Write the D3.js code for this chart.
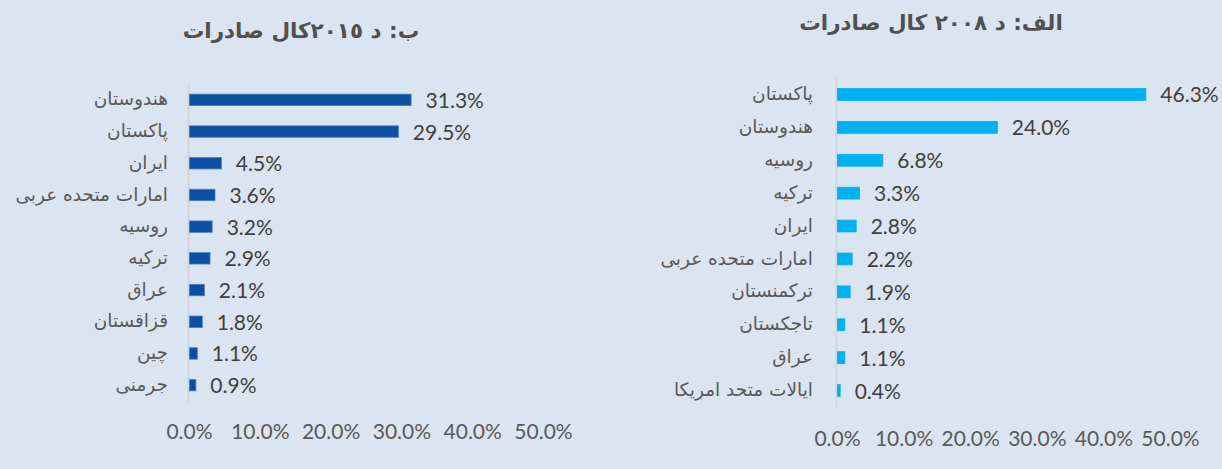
<!DOCTYPE html>
<html>
<head>
<meta charset="utf-8">
<script src="https://cdn.jsdelivr.net/npm/d3@7"></script>
<style>
  html, body { margin: 0; padding: 0; background: #dbe5f1; }
  svg { display: block; }
  .num { font-family: Lato, "Open Sans", sans-serif; }
  .ar { font-family: "DejaVu Sans", sans-serif; }
</style>
</head>
<body>
<div id="chart"></div>
<script>
// left panel (2015)
const title2015 = "ب: د  ٢٠١٥کال صادرات";
const countries2015 = ["هندوستان", "پاکستان", "ایران", "امارات متحده عربی", "روسیه", "ترکیه", "عراق", "قزاقستان", "چین", "جرمنی"];
const shares2015 = [31.3, 29.5, 4.5, 3.6, 3.2, 2.9, 2.1, 1.8, 1.1, 0.9];

// right panel (2008)
const title2008 = "الف: د ٢٠٠٨ کال صادرات";
const countries2008 = ["پاکستان", "هندوستان", "روسیه", "ترکیه", "ایران", "امارات متحده عربی", "ترکمنستان", "تاجکستان", "عراق", "ایالات متحد امریکا"];
const shares2008 = [46.3, 24.0, 6.8, 3.3, 2.8, 2.2, 1.9, 1.1, 1.1, 0.4];

const xTicks = [0, 10, 20, 30, 40, 50];

const W = 1222, H = 469;
const svg = d3.select("#chart").append("svg").attr("width", W).attr("height", H);

const fmt = d => d.toFixed(1) + "%";

function panel(cfg) {
    var g = svg.append("g");

    var x = d3.scaleLinear().domain([0, 50]).range(cfg.xr);
    var y = d3.scaleBand().domain(cfg.cats).range(cfg.yr).paddingInner(0.64).paddingOuter(0.32);

    // title
    g.append("text")
        .attr("class", "ar")
        .attr("x", cfg.tx).attr("y", cfg.ty)
        .attr("text-anchor", "middle")
        .attr("direction", "rtl")
        .style("unicode-bidi", "embed")
        .style("font-size", "21.5px")
        .style("font-weight", "bold")
        .style("fill", "#505050")
        .text(cfg.title);

    // category axis
    var ya = g.append("g")
        .attr("transform", `translate(${x(0) - 1},0)`)
        .call(d3.axisLeft(y).tickSize(0).tickSizeOuter(0).tickPadding(cfg.pad));
    ya.select(".domain").attr("stroke", "#d0d5dc").attr("stroke-width", 2);
    ya.selectAll("text")
        .attr("class", "ar")
        .attr("dy", "0.3em")
        .style("font-size", "18.5px")
        .style("fill", "#595959");

    // bars
    g.selectAll(".bar").data(cfg.vals).enter()
        .append("rect")
        .attr("x", x(0) + 0.5)
        .attr("y", (d, i) => y(cfg.cats[i]))
        .attr("width", d => x(d) - x(0))
        .attr("height", y.bandwidth())
        .attr("fill", cfg.color)
        .attr("stroke", cfg.edge)
        .attr("stroke-width", 0.8);

    // value labels
    g.selectAll(".val").data(cfg.vals).enter()
        .append("text")
        .attr("class", "num")
        .attr("x", d => x(d) + 15)
        .attr("y", (d, i) => y(cfg.cats[i]) + y.bandwidth() / 2 + 8)
        .style("font-size", "21px")
        .style("fill", "#404040")
        .text(fmt);

    // x axis
    var xa = g.append("g")
        .attr("transform", `translate(0,${cfg.xy})`)
        .call(d3.axisBottom(x).tickValues(xTicks).tickSize(0).tickFormat(d => d.toFixed(1) + "%"));
    xa.select(".domain").remove();
    xa.selectAll("text")
        .attr("class", "num")
        .attr("y", 0).attr("dy", null)
        .style("font-size", "21px")
        .style("fill", "#595959");
}

panel({
    title: title2015, tx: 301, ty: 38,
    cats: countries2015, vals: shares2015,
    xr: [189, 543], yr: [84, 401], xy: 439, pad: 20,
    color: "#0c4ea2", edge: "#4a7dc0"
});

panel({
    title: title2008, tx: 931, ty: 30,
    cats: countries2008, vals: shares2008,
    xr: [837, 1170], yr: [78, 407], xy: 446, pad: 23,
    color: "#00b0f0", edge: "#00b0f0"
});
</script>
</body>
</html>
